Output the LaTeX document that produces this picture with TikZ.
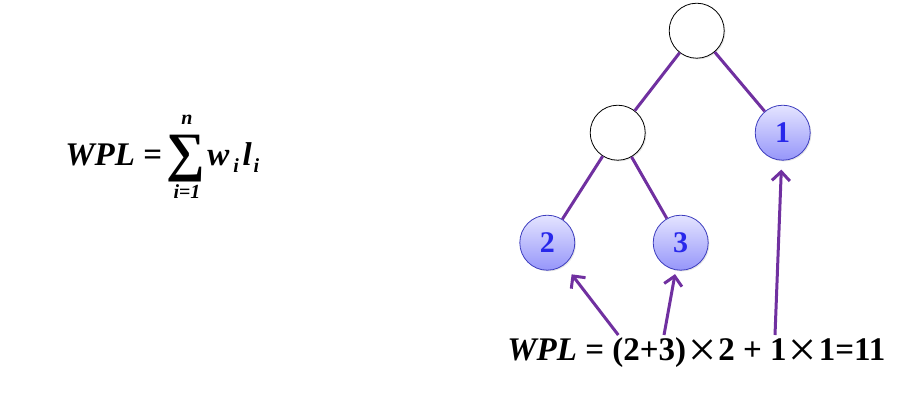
\documentclass[tikz,border=0pt]{standalone}
\usepackage{fontspec}
\setmainfont{Liberation Serif}
\usepackage{tikz}
\usetikzlibrary{
  arrows.meta
  , shadings
  , shadows
}
\newcommand{\bigtimes}{\hspace{1pt}\raisebox{-3pt}{\mdseries\fontsize{25}{25}\selectfont ×}\hspace{1pt}}

\begin{document}
\begin{tikzpicture}[x=0.5pt,y=-0.5pt,
    innernode/.style={circle, draw=black, fill=white, minimum size=27.5pt, inner sep=0pt,
      drop shadow={opacity=0.2, shadow xshift=0.6pt, shadow yshift=-0.6pt}},
    leaf/.style={circle, draw={rgb,255:red,60;green,60;blue,190}, top color={rgb,255:red,228;green,228;blue,255},
      bottom color={rgb,255:red,150;green,150;blue,250}, minimum size=27.5pt, inner sep=0pt,
      drop shadow={opacity=0.2, shadow xshift=0.6pt, shadow yshift=-0.6pt},
      text={rgb,255:red,40;green,40;blue,235}, font=\fontsize{15}{16}\selectfont\bfseries},
    edge/.style={draw={rgb,255:red,112;green,48;blue,160}, line width=1.5pt},
    arr/.style={edge, -{Straight Barb[length=4.5pt,width=9pt]}},
    eqtext/.style={font=\fontsize{16.5}{19}\selectfont\bfseries, inner sep=0pt},
    eqsmall/.style={font=\fontsize{10}{12}\selectfont\bfseries\itshape, inner sep=0pt}]
  \useasboundingbox (0,0) rectangle (914,414);

  \node [innernode] (root) at (696.7,30.7) {};
  \node [innernode] (mid) at (617.7,132.7) {};
  \node [leaf] (n1) at (782.7,132.7) {1};
  \node [leaf] (n2) at (547.3,242.7) {2};
  \node [leaf] (n3) at (680.7,242.7) {3};

  \draw [edge] (root) -- (mid);
  \draw [edge] (root) -- (n1);
  \draw [edge] (mid) -- (n2);
  \draw [edge] (mid) -- (n3);

  \node [eqtext, anchor=base west] (wpl) at (65,165) {\textit{WPL} =};
  \node [inner sep=0pt, text height=14pt, text depth=2pt, font=\fontsize{27}{29}\selectfont\bfseries] (sigma) at (185.5,158) {∑};
  \node [eqsmall, anchor=base] (upper) at (187,124) {n};
  \node [eqsmall, anchor=base] (lower) at (187,198) {i{\upshape=}1};
  \node [eqtext, anchor=base west] (w) at (207,165) {\textit{w}};
  \node [eqsmall, anchor=base west] (wi) at ([xshift=1.5pt, yshift=-3.5pt]w.base east) {i};
  \node [eqtext, anchor=base west] (l) at ([xshift=1.5pt]wi.base east |- w.base) {\textit{l}};
  \node [eqsmall, anchor=base west] (li) at ([xshift=0.5pt, yshift=-3.5pt]l.base east) {i};

  \node [eqtext, anchor=base west] (wcalc) at (507,360)
    {\textit{WPL} = (2+3)\bigtimes 2 + 1\bigtimes 1=11};

  \coordinate (t2) at (618.3,335);
  \coordinate (t3) at (664,335);
  \coordinate (t1) at (775,335);
  \draw [arr, shorten >=6pt] (t2) -- (n2);
  \draw [arr, shorten >=2pt] (t3) -- (n3);
  \draw [arr, shorten >=4.5pt] (t1) -- (n1);
\end{tikzpicture}
\end{document}
